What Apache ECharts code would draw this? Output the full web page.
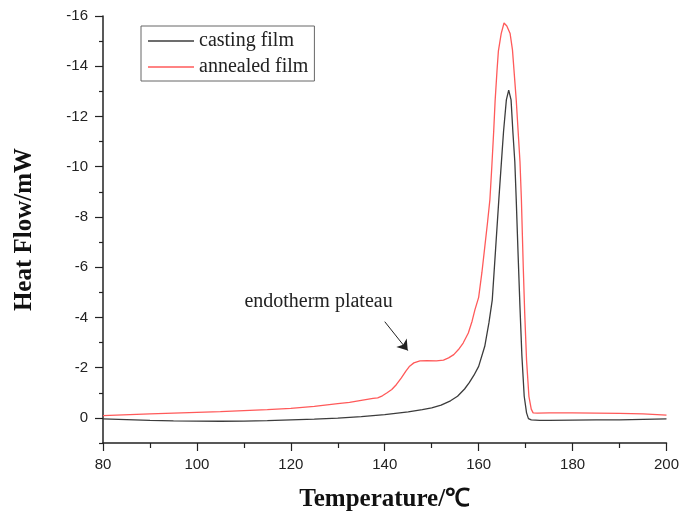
<!DOCTYPE html>
<html>
<head>
<meta charset="utf-8">
<title>DSC curves</title>
<script src="https://cdn.jsdelivr.net/npm/echarts@6/dist/echarts.min.js"></script>
<style>
  html, body { margin: 0; padding: 0; background: #fff; }
  #dsc-chart { width: 682px; height: 517px; }
</style>
</head>
<body>
<div id="dsc-chart"></div>
<script>
// casting film (black)
const castTemp = [80, 85, 90, 95, 100, 105, 110, 115, 120, 125, 130, 135, 140, 145, 148, 150, 152, 154, 155.5, 157, 158, 159, 160, 161.3, 162.2, 162.9, 163.6, 164.3, 165.0, 165.3, 165.9, 166.4, 166.9, 167.3, 167.7, 168.0, 168.4, 168.8, 169.2, 169.7, 170.2, 170.6, 171.2, 173, 175, 180, 185, 190, 195, 200];
const castHeat = [0.04, 0.07, 0.1, 0.12, 0.13, 0.135, 0.13, 0.11, 0.08, 0.05, 0.01, -0.05, -0.13, -0.24, -0.33, -0.4, -0.51, -0.68, -0.86, -1.15, -1.4, -1.7, -2.05, -2.85, -3.8, -4.7, -6.7, -8.7, -10.6, -11.4, -12.66, -13.05, -12.66, -11.35, -10.2, -8.7, -6.5, -4.4, -2.5, -0.86, -0.2, 0.03, 0.08, 0.1, 0.1, 0.09, 0.08, 0.08, 0.06, 0.04];

// annealed film (red)
const annealTemp = [80, 90, 100, 105, 110, 115, 120, 125, 130, 132.5, 135, 137.5, 138.5, 139.5, 140.5, 141.5, 142.5, 143.5, 144.5, 145.3, 146.2, 147.5, 149, 151, 152.5, 153.6, 154.7, 155.7, 156.7, 157.8, 158.6, 159.2, 160, 160.7, 161.3, 161.9, 162.4, 162.8, 163.2, 163.5, 163.9, 164.2, 164.8, 165.4, 166.0, 166.7, 167.2, 168.0, 168.8, 169.1, 169.5, 169.8, 170.2, 170.7, 171.2, 171.6, 172.5, 175, 180, 185, 190, 195, 200];
const annealHeat = [-0.09, -0.16, -0.22, -0.25, -0.29, -0.33, -0.38, -0.46, -0.57, -0.62, -0.7, -0.78, -0.8, -0.88, -1.0, -1.13, -1.33, -1.58, -1.86, -2.06, -2.19, -2.27, -2.28, -2.27, -2.3, -2.39, -2.52, -2.72, -2.98, -3.38, -3.85, -4.3, -4.8, -5.8, -6.8, -7.8, -8.7, -10.0, -11.4, -12.6, -13.8, -14.6, -15.3, -15.72, -15.6, -15.3, -14.65, -12.66, -10.2, -8.7, -6.0, -4.2, -2.3, -0.86, -0.35, -0.2, -0.19, -0.2, -0.2, -0.19, -0.18, -0.16, -0.11];

const xTicks = [80, 100, 120, 140, 160, 180, 200];
const yMajorTicks = [-16, -14, -12, -10, -8, -6, -4, -2, 0];
const yMinorTicks = [-15, -13, -11, -9, -7, -5, -3, -1, 1];

// annotation: label point and arrow [from, to] in data units
const noteText = 'endotherm plateau';
const notePos = [125.9, -4.64];
const arrowFrom = [140.0, -3.83];
const arrowTo = [144.9, -2.68];

const serif = "'Times New Roman', 'Liberation Serif', serif";
const sans = "Arial, 'Liberation Sans', sans-serif";

const zip = (xs, ys) => xs.map((x, i) => [x, ys[i]]);

const chart = echarts.init(document.getElementById('dsc-chart'));

const yBase = {
  type: 'value',
  inverse: true,
  min: -16,
  max: 1,
  splitLine: { show: false },
  nameTextStyle: { fontFamily: serif, fontWeight: 'bold', fontSize: 25, color: '#111' }
};

chart.setOption({
  animation: false,
  backgroundColor: '#fff',
  grid: { left: 103, right: 14, top: 16, bottom: 74 },
  legend: {
    orient: 'vertical',
    left: 141,
    top: 26,
    padding: [5, 6, 4, 7],
    icon: 'rect',
    itemWidth: 46,
    itemHeight: 1.4,
    itemGap: 6,
    borderColor: '#666',
    borderWidth: 1,
    selectedMode: false,
    textStyle: { fontFamily: serif, fontSize: 20, color: '#222' },
    data: ['casting film', 'annealed film']
  },
  xAxis: {
    type: 'value',
    min: 80,
    max: 200,
    interval: 20,
    name: 'Temperature/℃',
    nameLocation: 'middle',
    nameGap: 44,
    nameTextStyle: { fontFamily: serif, fontWeight: 'bold', fontSize: 25, color: '#111' },
    axisLine: { onZero: false, lineStyle: { color: '#222', width: 1.5 } },
    axisTick: { length: 8, lineStyle: { color: '#222', width: 1.2 } },
    minorTick: { show: true, splitNumber: 2, length: 5, lineStyle: { color: '#222', width: 1.2 } },
    splitLine: { show: false },
    axisLabel: {
      customValues: xTicks,
      margin: 14,
      fontFamily: sans,
      fontSize: 15,
      color: '#222'
    }
  },
  yAxis: [
    Object.assign({}, yBase, {
      name: 'Heat Flow/mW',
      nameLocation: 'middle',
      nameRotate: 90,
      nameGap: 66,
      axisLine: { show: true, onZero: false, lineStyle: { color: '#222', width: 1.5 } },
      axisTick: { show: true, customValues: yMajorTicks, length: 8, lineStyle: { color: '#222', width: 1.2 } },
      axisLabel: {
        customValues: yMajorTicks,
        margin: 15,
        fontFamily: sans,
        fontSize: 15,
        color: '#222'
      }
    }),
    Object.assign({}, yBase, {
      position: 'left',
      axisLine: { show: false, onZero: false },
      axisTick: { show: true, customValues: yMinorTicks, length: 4, lineStyle: { color: '#222', width: 1.2 } },
      axisLabel: { show: false }
    })
  ],
  series: [
    {
      name: 'casting film',
      type: 'line',
      symbol: 'none',
      data: zip(castTemp, castHeat),
      lineStyle: { color: '#3c3c3c', width: 1.3 },
      itemStyle: { color: '#3c3c3c' }
    },
    {
      name: 'annealed film',
      type: 'line',
      symbol: 'none',
      data: zip(annealTemp, annealHeat),
      lineStyle: { color: '#ff5a5a', width: 1.3 },
      itemStyle: { color: '#ff5a5a' },
      markLine: {
        silent: true,
        symbol: ['none', 'arrow'],
        symbolSize: 10,
        label: { show: false },
        lineStyle: { color: '#222', width: 1, type: 'solid' },
        data: [[{ coord: arrowFrom }, { coord: arrowTo }]]
      },
      markPoint: {
        silent: true,
        symbol: 'circle',
        symbolSize: 0,
        data: [{ coord: notePos }],
        label: {
          show: true,
          position: 'inside',
          formatter: noteText,
          fontFamily: serif,
          fontSize: 20,
          color: '#222'
        }
      }
    }
  ]
});
</script>
</body>
</html>
